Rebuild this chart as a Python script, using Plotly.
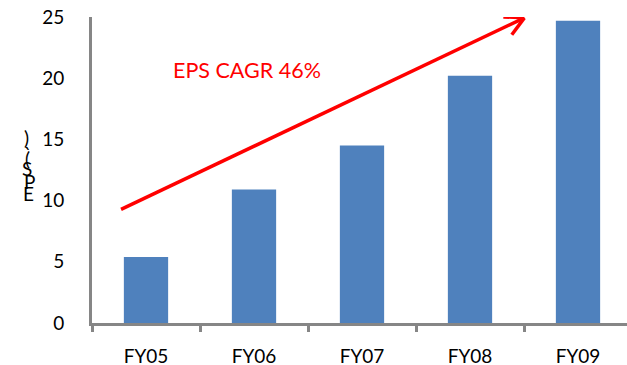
import math
import plotly.graph_objects as go

# ---- data ----
categories = ["FY05", "FY06", "FY07", "FY08", "FY09"]
eps_values = [5.4, 10.9, 14.5, 20.2, 24.7]
y_tick_vals = [0, 5, 10, 15, 20, 25]
cagr_label = "EPS CAGR 46%"
y_label_chars = ["E", "P", "S", "(", "`", ")"]  # "EPS (`)" stacked bottom-to-top

# ---- layout geometry ----
W, H = 627, 365
ML, MR, MT, MB = 92, 0, 17, 42
plot_w = W - ML - MR
plot_h = H - MT - MB
px_per_cat = 108.0
x_range = [-0.5, -0.5 + plot_w / px_per_cat]
y_range = [0, 25]

FONT = "Lato"
BAR_COLOR = "#4F81BD"
AXIS_COLOR = "#868686"
RED = "#FF0000"

fig = go.Figure()
fig.add_trace(go.Bar(
    x=categories, y=eps_values,
    marker=dict(color=BAR_COLOR, line=dict(width=0)),
    width=0.41,
    hoverinfo="x+y",
))

# arrow (CAGR trend) in data coordinates
arrow_start = (-0.231, 9.28)
arrow_end = (3.503, 24.93)
LW = 3.5
fig.add_shape(type="line", xref="x", yref="y",
              x0=arrow_start[0], y0=arrow_start[1], x1=arrow_end[0], y1=arrow_end[1],
              line=dict(color=RED, width=LW))
px_per_y = plot_h / (y_range[1] - y_range[0])
dx = (arrow_end[0] - arrow_start[0]) * px_per_cat
dy = (arrow_end[1] - arrow_start[1]) * px_per_y
theta = math.atan2(-dy, -dx)
arm_len, half = 21, math.radians(28)
for s in (-1, 1):
    a = theta + s * half
    fig.add_shape(type="line", xref="x", yref="y",
                  xsizemode="pixel", ysizemode="pixel",
                  xanchor=arrow_end[0], yanchor=arrow_end[1],
                  x0=0, y0=0, x1=arm_len * math.cos(a), y1=arm_len * math.sin(a),
                  line=dict(color=RED, width=LW))

def px_to_paper(xp, yp):
    return (xp - ML) / plot_w, (H - MB - yp) / plot_h

# CAGR text
tx, ty = px_to_paper(246.7, 70)
fig.add_annotation(text=cagr_label, xref="paper", yref="paper", x=tx, y=ty,
                   showarrow=False, xanchor="center", yanchor="middle",
                   font=dict(family=FONT, size=21.5, color=RED))

# stacked y-axis label characters (overlapping, as in the reference)
char_y_px = [194, 181, 168, 158, 153, 137]
char_x_px = [28, 29, 27, 27, 28, 26]
for ch, xp, yp in zip(y_label_chars, char_x_px, char_y_px):
    cx, cy = px_to_paper(xp, yp)
    fig.add_annotation(text=ch, xref="paper", yref="paper", x=cx, y=cy,
                       showarrow=False, xanchor="center", yanchor="middle",
                       font=dict(family=FONT, size=19, color="#000000"))

fig.update_layout(
    width=W, height=H,
    margin=dict(l=ML, r=MR, t=MT, b=MB, pad=0, autoexpand=False),
    paper_bgcolor="white", plot_bgcolor="white",
    showlegend=False,
    font=dict(family=FONT, size=19, color="#000000"),
    xaxis=dict(
        type="category", range=x_range, automargin=False,
        showline=True, linecolor=AXIS_COLOR, linewidth=3,
        ticks="outside", tickson="boundaries", ticklen=6, tickwidth=3, tickcolor=AXIS_COLOR,
        showgrid=False, zeroline=False,
        tickfont=dict(family=FONT, size=19, color="#000000"),
        ticklabelstandoff=14,
    ),
    yaxis=dict(
        range=y_range, tickvals=y_tick_vals, automargin=False,
        showline=True, linecolor=AXIS_COLOR, linewidth=3,
        ticks="", showgrid=False, zeroline=False,
        tickfont=dict(family=FONT, size=19, color="#000000"),
        ticklabelstandoff=21,
    ),
)

fig.write_html("out.html")
